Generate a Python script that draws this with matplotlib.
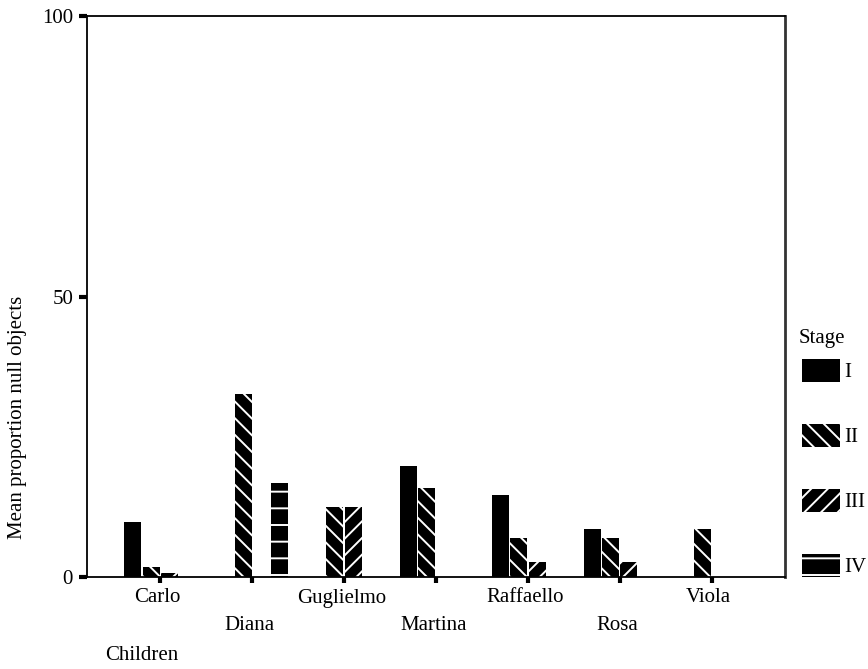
import numpy as np
import matplotlib.pyplot as plt
from matplotlib.transforms import blended_transform_factory

plt.rcParams['font.family'] = ['Liberation Serif', 'DejaVu Serif']
plt.rcParams['hatch.linewidth'] = 1.4

children = ["Carlo", "Diana", "Guglielmo", "Martina", "Raffaello", "Rosa", "Viola"]
stages = ["I", "II", "III", "IV"]
stage_I = [9.8, 0, 0, 19.7, 14.7, 8.6, 0]
stage_II = [1.8, 32.6, 12.5, 15.9, 7.0, 7.0, 8.6]
stage_III = [0.7, 0, 12.5, 0, 2.7, 2.7, 0]
stage_IV = [0, 16.8, 0, 0, 0, 0, 0]
values = [stage_I, stage_II, stage_III, stage_IV]
hatches = [None, '\\\\', '//', '-']

fs = 15
fig = plt.figure(figsize=(8.68, 6.69), dpi=100)
ax = fig.add_axes([87/868, 1-577/669, (785-87)/868, (577-16)/669])

x = np.arange(len(children))
w = 0.185
offsets = [-0.3, -0.1, 0.1, 0.3]
for vals, st, h, off in zip(values, stages, hatches, offsets):
    if h is None:
        ax.bar(x+off, vals, w, color='black', linewidth=0, label=st)
    else:
        ax.bar(x+off, vals, w, facecolor='black', edgecolor='white',
               hatch=h, linewidth=0, label=st)

ax.set_xlim(-0.8, 6.8)
ax.set_ylim(0, 100)
ax.set_yticks([0, 50, 100])
ax.tick_params(axis='y', length=6, width=3, labelsize=fs, pad=4)
ax.set_xticks(x)
ax.set_xticklabels([])
ax.tick_params(axis='x', length=4, width=3)
for s in ax.spines.values():
    s.set_linewidth(1.3)
ax.spines['right'].set_linewidth(2)
ax.spines['right'].set_color('#333333')

# staggered child names
tr = blended_transform_factory(ax.transData, fig.transFigure)
for i, name in enumerate(children):
    yy = 1-598/669 if i % 2 == 0 else 1-626/669
    fig.text(x[i]-0.03, yy, name, transform=tr, ha='center', va='center', fontsize=fs)
fig.text(142/868, 1-655/669, "Children", ha='center', va='center', fontsize=fs)
fig.text(18/868, 1-417/669, "Mean proportion null objects", rotation=90,
         ha='center', va='center', fontsize=fs)

fig.text(799/868, 1-339/669, "Stage", ha='left', va='center', fontsize=fs)
leg = fig.legend(loc='upper left', bbox_to_anchor=(802/868, 1-359/669),
                 frameon=False, fontsize=fs,
                 handlelength=1.83, handleheight=1.3, labelspacing=2.0,
                 handletextpad=0.2, borderaxespad=0, borderpad=0)

fig.savefig("out.png", dpi=100)
